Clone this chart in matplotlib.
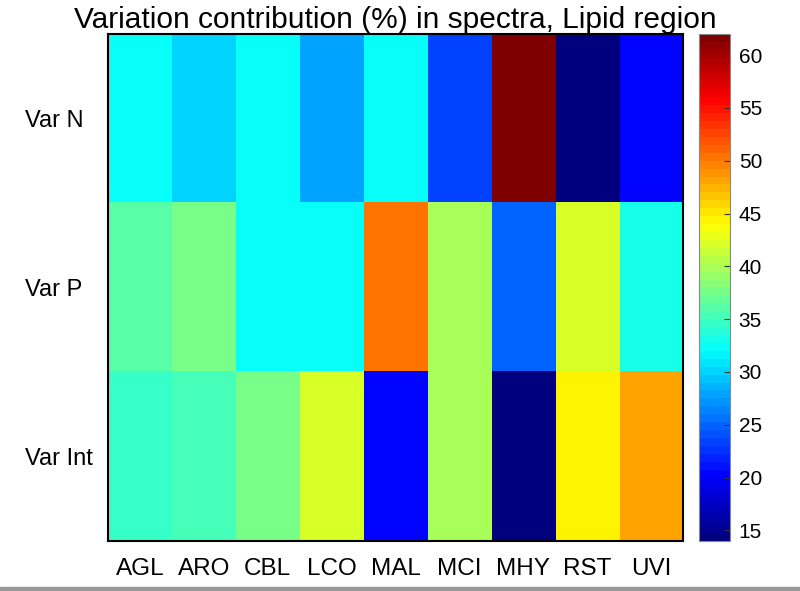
import matplotlib
matplotlib.use("Agg")
import matplotlib.pyplot as plt
import numpy as np
from matplotlib.colors import LinearSegmentedColormap

# column / row labels
samples = ["AGL", "ARO", "CBL", "LCO", "MAL", "MCI", "MHY", "RST", "UVI"]
variables = ["Var N", "Var P", "Var Int"]

# variation contribution (%)
var_n = [32.0, 29.9, 32.0, 28.0, 32.0, 23.2, 62.0, 14.5, 20.7]
var_p = [35.8, 37.6, 32.0, 32.0, 50.1, 39.5, 25.2, 42.3, 33.4]
var_int = [34.4, 35.3, 37.9, 41.9, 20.6, 39.8, 14.5, 44.0, 48.0]

vmin, vmax = 14.0, 62.0
cbar_ticks = [15, 20, 25, 30, 35, 40, 45, 50, 55, 60]

plt.rcParams["font.family"] = ["Liberation Sans", "DejaVu Sans"]

# MATLAB style jet, 64 steps
jet64 = LinearSegmentedColormap.from_list(
    "mjet",
    [(0.0, (0, 0, 0.5)), (0.125, (0, 0, 1)), (0.375, (0, 1, 1)),
     (0.625, (1, 1, 0)), (0.875, (1, 0, 0)), (1.0, (0.5, 0, 0))],
    N=64,
)

data = np.array([var_n, var_p, var_int])

fig = plt.figure(figsize=(8, 5.91), dpi=100)
ax = fig.add_axes([0.135, 0.0846, 0.719, 0.858])
cax = fig.add_axes([0.874, 0.0846, 0.039, 0.858])

im = ax.imshow(data, cmap=jet64, vmin=vmin, vmax=vmax,
               aspect="auto", interpolation="nearest")

ax.set_xticks(range(len(samples)))
ax.set_xticklabels(samples, fontsize=17.5)
ax.set_yticks(range(len(variables)))
ax.set_yticklabels(variables, fontsize=17, ha="left")
ax.tick_params(axis="y", length=0, pad=60)
ax.tick_params(axis="x", length=0, pad=12)
for s in ax.spines.values():
    s.set_linewidth(1.5)
ax.set_title("Variation contribution (%) in spectra, Lipid region",
             fontsize=21.5, pad=3)

cb = fig.colorbar(im, cax=cax, ticks=cbar_ticks)
cb.ax.tick_params(direction="in", length=4, labelsize=15, pad=6, color="#333333")
cb.outline.set_edgecolor("#888888")

# thin grey strip along the bottom edge of the original screenshot
fig.patches.append(plt.Rectangle((0, 0), 1, 0.006, transform=fig.transFigure,
                                 color="#999999", zorder=0))

fig.savefig("out.png", dpi=100)
